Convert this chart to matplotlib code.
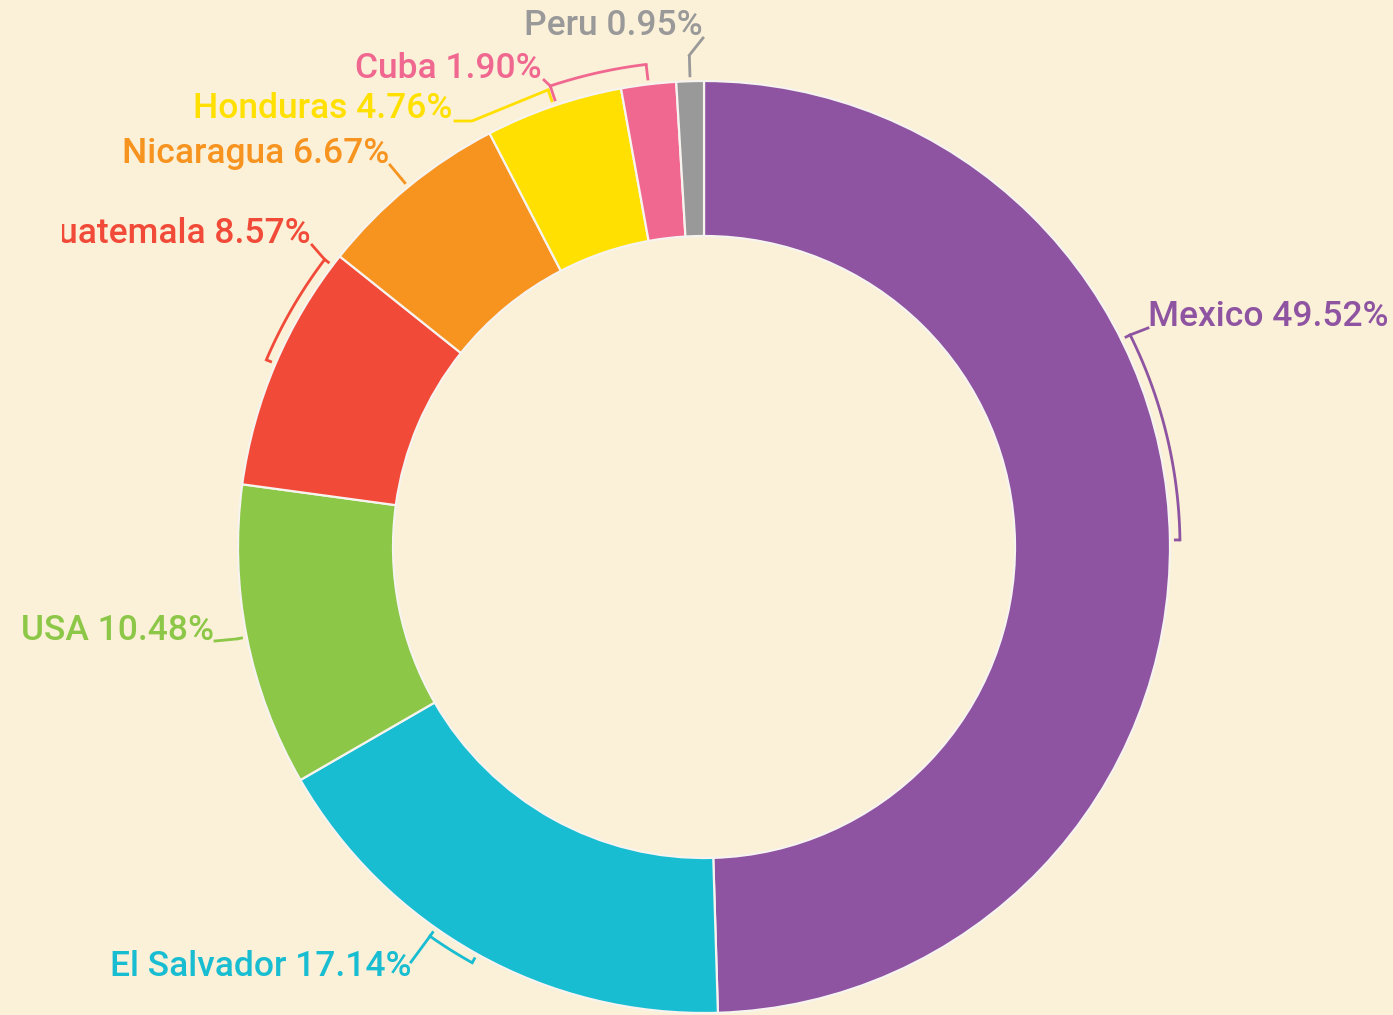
import matplotlib.pyplot as plt
import numpy as np
from matplotlib.patches import Rectangle

# Data
countries = ["Mexico", "El Salvador", "USA", "Guatemala", "Nicaragua", "Honduras", "Cuba", "Peru"]
percents = [49.52, 17.14, 10.48, 8.57, 6.67, 4.76, 1.90, 0.95]
colors = ["#8E54A1", "#19BDD1", "#8CC747", "#F24A38", "#F7931F", "#FFE000", "#F06890", "#999999"]

# Layout (pixel space, y down)
W, H = 1393, 1015
CX, CY = 704, 547
R_OUT, R_IN = 466, 311
BG = "#FBF0D8"

# per label: bracket end offset from mid angle (deg), bracket radius, leader points, text anchor, ha
layout = {
    "Mexico":      dict(span=25.6, rb=476, lead=[(1148, 328)], txt=(1148, 316), ha="left"),
    "El Salvador": dict(span=-6.0, rb=476, lead=[(411, 962)], txt=(411, 967), ha="right"),
    "USA":         dict(span=0, rb=476, lead=[(215, 641)], txt=(214, 631), ha="right"),
    "Guatemala":   dict(span=-14.0, rb=476, lead=[(312, 245)], txt=(311, 233), ha="right"),
    "Nicaragua":   dict(span=0, rb=478, lead=[(390, 165)], txt=(389, 153), ha="right"),
    "Honduras":    dict(span=0, rb=483, lead=[(472, 121), (455, 121)], txt=(452, 108), ha="right"),
    "Cuba":        dict(span=11.6, rb=486, lead=[(544, 80)], txt=(542, 68), ha="right"),
    "Peru":        dict(span=0, rb=492, lead=[(703, 38)], txt=(703, 25), ha="right"),
}


def P(px, py):
    return px, H - py


def polar(ang, r):
    a = np.radians(ang)
    return CX + r * np.cos(a), CY - r * np.sin(a)


def main():
    fig = plt.figure(figsize=(W / 100, H / 100), dpi=100, facecolor=BG)
    ax = fig.add_axes([0, 0, 1, 1])
    ax.set_facecolor(BG)

    ax.pie(percents, colors=colors, startangle=90, counterclock=False,
           center=P(CX, CY), radius=R_OUT,
           wedgeprops=dict(width=R_OUT - R_IN, edgecolor="#F7F4F0", linewidth=1.6))

    # mid angles of slices
    fracs = np.array(percents) / sum(percents)
    ends = 90 - 360 * np.cumsum(fracs)
    starts = ends + 360 * fracs
    mids = (starts + ends) / 2

    for name, pct, col, mid in zip(countries, percents, colors, mids):
        lay = layout[name]
        rb = lay["rb"]
        a1 = mid + lay["span"]
        # bracket arc
        angs = np.linspace(mid, a1, 40)
        pts = [polar(a, rb) for a in angs]
        xs = [p[0] for p in pts]
        ys = [H - p[1] for p in pts]
        for a in ([mid, a1] if lay["span"] else [mid]):
            x0, y0 = polar(a, R_OUT + 4)
            x1, y1 = polar(a, rb)
            ax.plot([x0, x1], [H - y0, H - y1], color=col, lw=2, solid_capstyle="butt")
        ax.plot(xs, ys, color=col, lw=2)
        # leader to label
        lx = [xs[-1]] + [p[0] for p in lay["lead"]]
        ly = [ys[-1]] + [H - p[1] for p in lay["lead"]]
        ax.plot(lx, ly, color=col, lw=2)

        t = ax.text(*P(*lay["txt"]), f"{name} {pct:.2f}%", color=col,
                    fontsize=25.5, fontfamily="Roboto", fontweight="medium",
                    ha=lay["ha"], va="center")
        if name == "Guatemala":
            # label is cut off at the left in the original
            clip = Rectangle((62, 0), W, H, transform=ax.transData)
            ax.add_artist(clip)
            clip.set_visible(False)
            t.set_clip_path(clip)
            t.set_clip_on(True)

    ax.set_xlim(0, W)
    ax.set_ylim(0, H)
    ax.set_aspect("equal")
    ax.axis("off")
    fig.savefig("out.png", dpi=100, facecolor=BG)


if __name__ == "__main__":
    main()
